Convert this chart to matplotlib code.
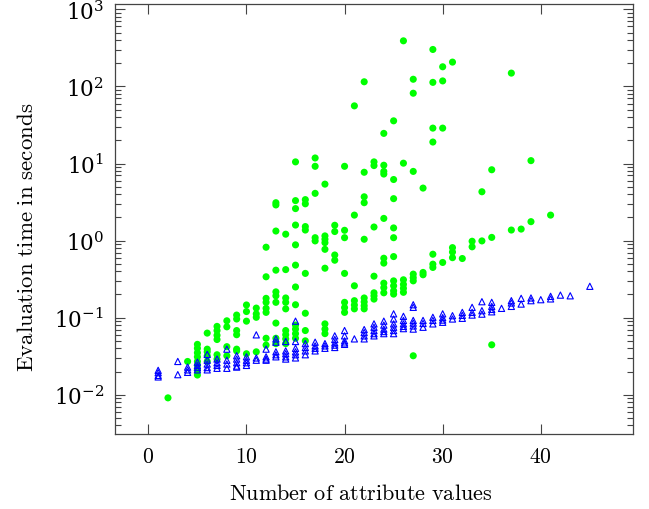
import numpy as np
import matplotlib
matplotlib.use('Agg')
import matplotlib.pyplot as plt
from matplotlib.ticker import LogLocator, LogFormatterMathtext, NullFormatter, FixedLocator

plt.rcParams['mathtext.fontset'] = 'cm'
plt.rcParams['font.family'] = ['DejaVu Serif']

# green series: x column -> evaluation times (s)
green_cols = [2, 4, 5, 6, 7, 8, 9, 10, 11, 12, 13, 14, 15, 16, 17, 18, 19, 20,
              21, 22, 23, 24, 25, 26, 27, 28, 29, 30, 31, 32, 33, 34, 35, 37,
              38, 39, 41]
green_vals = [
    [0.0091],
    [0.027],
    [0.045, 0.040, 0.035, 0.031, 0.027, 0.024, 0.021, 0.018],
    [0.063, 0.039, 0.036, 0.032, 0.027],
    [0.077, 0.068, 0.059, 0.052, 0.033, 0.029],
    [0.091, 0.076, 0.042, 0.032],
    [0.108, 0.096, 0.068, 0.060, 0.039, 0.037],
    [0.146, 0.120, 0.090, 0.034],
    [0.133, 0.112, 0.101, 0.036],
    [0.82, 0.339, 0.178, 0.158, 0.132, 0.117, 0.054, 0.044],
    [3.1, 2.9, 1.33, 0.413, 0.216, 0.192, 0.158, 0.085, 0.054, 0.046],
    [1.21, 0.42, 0.18, 0.158, 0.13, 0.068, 0.06, 0.053, 0.046],
    [10.5, 3.3, 2.6, 1.59, 0.88, 0.48, 0.25, 0.147, 0.08, 0.071, 0.062, 0.054],
    [3.4, 3.0, 1.52, 1.37, 0.375, 0.114, 0.068, 0.050],
    [11.8, 9.2, 4.1, 1.09, 0.99],
    [5.4, 1.15, 1.04, 0.94, 0.77, 0.438, 0.083, 0.071, 0.062],
    [1.58, 1.31, 0.65, 0.556],
    [9.2, 1.36, 1.09, 0.375, 0.158, 0.135, 0.117],
    [56, 2.14, 0.259, 0.166, 0.146, 0.13],
    [115, 7.7, 3.7, 3.1, 1.04, 0.18, 0.16, 0.143, 0.13],
    [10.5, 9.4, 1.50, 0.345, 0.21, 0.192, 0.174],
    [24.6, 9.5, 7.9, 7.3, 1.94, 0.59, 0.51, 0.28, 0.245, 0.21],
    [35.8, 6.2, 3.5, 1.46, 1.09, 0.62, 0.30, 0.259, 0.223, 0.202],
    [391, 10.1, 0.31, 0.27, 0.24, 0.213],
    [124, 81.7, 7.9, 0.367, 0.33, 0.30, 0.032],
    [4.8, 0.386, 0.36],
    [302, 113, 28.8, 19, 0.665, 0.494, 0.448],
    [180, 118, 28.8, 0.52],
    [207, 0.81, 0.71, 0.60],
    [0.585],
    [0.98, 0.83],
    [4.3, 0.99],
    [8.3, 1.10, 0.0444],
    [149, 1.37],
    [1.41],
    [10.9, 1.76],
    [2.14],
]

# blue series
blue_cols = [1, 3, 4, 5, 6, 7, 8, 9, 10, 11, 12, 13, 14, 15, 16, 17, 18, 19,
             20, 21, 22, 23, 24, 25, 26, 27, 28, 29, 30, 31, 32, 33, 34, 35,
             36, 37, 38, 39, 40, 41, 42, 43, 45]
blue_vals = [
    [0.0207, 0.0193, 0.0178, 0.017],
    [0.027, 0.0182],
    [0.0228, 0.021, 0.0195],
    [0.0264, 0.024, 0.0225, 0.021],
    [0.0333, 0.028, 0.025, 0.0225, 0.021],
    [0.029, 0.026, 0.024, 0.022],
    [0.039, 0.028, 0.025, 0.022],
    [0.032, 0.029, 0.026, 0.0235, 0.0228],
    [0.031, 0.028, 0.026, 0.024],
    [0.0598, 0.030, 0.028],
    [0.039, 0.031, 0.029, 0.028],
    [0.053, 0.048, 0.036, 0.033, 0.031],
    [0.049, 0.037, 0.034, 0.031, 0.029],
    [0.090, 0.049, 0.040, 0.036, 0.033, 0.030],
    [0.046, 0.041, 0.037, 0.033],
    [0.048, 0.043, 0.040, 0.037],
    [0.046, 0.043, 0.040],
    [0.058, 0.052, 0.047, 0.044, 0.041],
    [0.068, 0.058, 0.050, 0.047, 0.045],
    [0.053],
    [0.070, 0.064, 0.058, 0.053],
    [0.083, 0.075, 0.068, 0.062, 0.058],
    [0.090, 0.080, 0.071, 0.066, 0.062],
    [0.112, 0.096, 0.083, 0.075, 0.068, 0.062],
    [0.104, 0.092, 0.083, 0.077, 0.072],
    [0.147, 0.136, 0.092, 0.085, 0.078, 0.071],
    [0.092, 0.084, 0.075],
    [0.101, 0.092, 0.083],
    [0.112, 0.100, 0.093, 0.087],
    [0.106, 0.096],
    [0.117, 0.107, 0.098],
    [0.136, 0.117, 0.108],
    [0.161, 0.123, 0.111],
    [0.158, 0.14, 0.128, 0.119],
    [0.132],
    [0.166, 0.155, 0.14],
    [0.178, 0.15],
    [0.18, 0.166],
    [0.171],
    [0.189, 0.175],
    [0.196],
    [0.192],
    [0.255],
]

green_x = [c for c, v in zip(green_cols, green_vals) for _ in v]
green_y = [y for v in green_vals for y in v]
blue_x = [c for c, v in zip(blue_cols, blue_vals) for _ in v]
blue_y = [y for v in blue_vals for y in v]

fig = plt.figure(figsize=(6.49, 5.10), dpi=100)
ax = fig.add_axes([115 / 649, 75 / 510, 518 / 649, 430 / 510])

ax.scatter(green_x, green_y, s=26, marker='o', color='#00ff00',
           edgecolors='none', zorder=2)
ax.scatter(blue_x, blue_y, s=20, marker='^', facecolors='none',
           edgecolors='#0000ff', linewidths=0.8, zorder=3)

ax.set_yscale('log')
ax.set_xlim(-3.4, 49.4)
ax.set_ylim(10 ** -2.51, 10 ** 3.07)

ax.xaxis.set_major_locator(FixedLocator([0, 10, 20, 30, 40]))
ax.set_xticklabels([r'$%d$' % v for v in [0, 10, 20, 30, 40]])
ax.yaxis.set_major_locator(LogLocator(base=10, numticks=10))
ax.yaxis.set_major_formatter(LogFormatterMathtext())
ax.yaxis.set_minor_locator(LogLocator(base=10, subs=np.arange(2, 10), numticks=20))
ax.yaxis.set_minor_formatter(NullFormatter())

frame_col = '#444444'
for sp in ax.spines.values():
    sp.set_color(frame_col)
    sp.set_linewidth(0.9)
ax.tick_params(which='both', direction='in', top=True, right=True,
               color=frame_col, width=0.8, labelsize=15.5, pad=8)
ax.tick_params(which='major', length=7.5)
ax.tick_params(which='minor', length=4)

ax.set_xlabel(r'$\mathrm{Number\ of\ attribute\ values}$', fontsize=16)
ax.set_ylabel(r'$\mathrm{Evaluation\ time\ in\ seconds}$', fontsize=16.5)
ax.xaxis.set_label_coords(0.475, -0.112)
ax.yaxis.set_label_coords(-0.148, 0.46)

fig.savefig('out.png', dpi=100)
